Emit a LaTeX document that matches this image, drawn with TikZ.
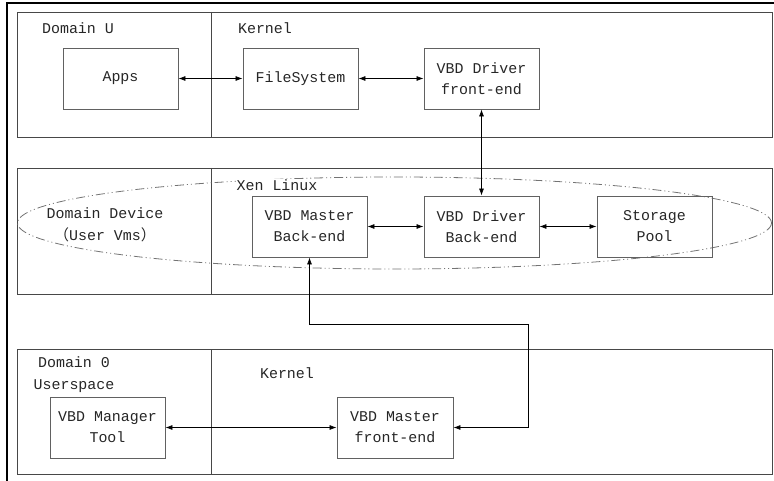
\documentclass[tikz,border=0pt]{standalone}
\usepackage{fontspec}
\setmainfont{Liberation Mono}
\newfontfamily\cjk{Noto Sans CJK SC}
\usetikzlibrary{arrows.meta}

\tikzset{
  blk/.style={draw=black!62, line width=0.9pt, minimum width=115bp, minimum height=61bp,
              align=center, inner sep=0pt, text=black!85, font=\fontsize{15}{21}\selectfont},
  lbl/.style={text=black!85, inner sep=1pt, align=center, font=\fontsize{15}{22}\selectfont},
  pane/.style={draw=black!72, line width=0.9pt},
  link/.style={{Latex[length=7bp,width=5bp]}-{Latex[length=7bp,width=5bp]}, line width=0.7pt},
  ring/.style={draw=black!55, line width=0.8pt, dash pattern=on 9pt off 3pt on 1pt off 3pt on 1pt off 3pt}
}

\begin{document}
\begin{tikzpicture}[x=1bp, y=-1bp]

\useasboundingbox (0,0) rectangle (774,481);

% outer frame
\draw [line width=1.4pt] (7,481) -- (7,3) -- (774,3);

% three panes
\draw [pane] (17,12) rectangle (772,137);
\draw [pane] (211,12) -- (211,137);
\draw [pane] (17,168) rectangle (772,294);
\draw [pane] (211,168) -- (211,294);
\draw [pane] (17,349) rectangle (772,474);
\draw [pane] (211,349) -- (211,474);

% Xen Linux ring
\draw [ring] (394.5,223) ellipse [x radius=377, y radius=46];

% labels
\node [lbl] (domU) at (78,28) {Domain U};
\node [lbl] (kernU) at (265,28) {Kernel};
\node [lbl, fill=white] (xen) at (277,185) {Xen Linux};
\node [lbl] (domdev) at (105,225) {Domain Device\\{\cjk （}User Vms{\cjk ）}};
\node [lbl] (dom0) at (74,375) {Domain 0\\Userspace};
\node [lbl] (kern0) at (287,373) {Kernel};

% boxes
\node [blk] (apps) at (120.5,78.5) {Apps};
\node [blk] (fs) at (300.5,78.5) {FileSystem};
\node [blk] (vbdfe) at (481.5,78.5) {VBD Driver\\front-end};
\node [blk] (mbe) at (309.5,226.5) {VBD Master\\Back-end};
\node [blk] (vbdbe) at (481.5,226.5) {VBD Driver\\Back-end};
\node [blk] (pool) at (654.5,226.5) {Storage\\Pool};
\node [blk] (mgr) at (107.5,427.5) {VBD Manager\\Tool};
\node [blk, minimum width=116bp] (mfe) at (395,427.5) {VBD Master\\front-end};

\coordinate (bend) at (528,324);

% connectors
\draw [link] (apps) -- (fs);
\draw [link] (fs) -- (vbdfe);
\draw [link] (vbdfe) -- (vbdbe);
\draw [link] (mbe) -- (vbdbe);
\draw [link] (vbdbe) -- (pool);
\draw [link] (mgr) -- (mfe);
\draw [link] (mbe.south) |- (bend) |- (mfe.east);

\end{tikzpicture}
\end{document}
